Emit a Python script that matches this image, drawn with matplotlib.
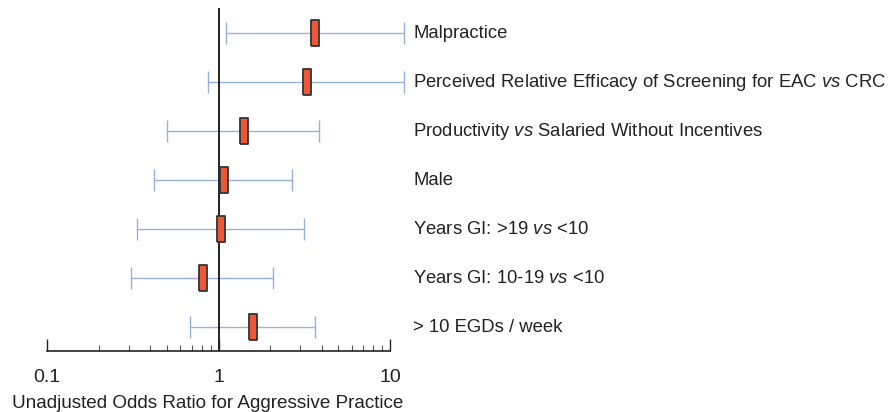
import matplotlib.pyplot as plt
import numpy as np

plt.rcParams['font.family'] = ['Liberation Sans', 'DejaVu Sans']
plt.rcParams['mathtext.fontset'] = 'custom'
plt.rcParams['mathtext.rm'] = 'Liberation Sans'
plt.rcParams['mathtext.it'] = 'Liberation Sans:italic'

# factors, top to bottom
labels = [
    "Malpractice",
    "Perceived Relative Efficacy of Screening for EAC $\\it{vs}$ CRC",
    "Productivity $\\it{vs}$ Salaried Without Incentives",
    "Male",
    "Years GI: >19 $\\it{vs}$ <10",
    "Years GI: 10-19 $\\it{vs}$ <10",
    "> 10 EGDs / week",
]
odds = [3.63, 3.26, 1.40, 1.07, 1.03, 0.81, 1.58]
ci_low = [1.10, 0.87, 0.50, 0.42, 0.337, 0.307, 0.68]
ci_high = [12.0, 12.1, 3.88, 2.67, 3.17, 2.09, 3.63]

odds = np.array(odds)
ci_low = np.array(ci_low)
ci_high = np.array(ci_high)
y = np.arange(len(labels))[::-1]

fig = plt.figure(figsize=(8.91, 4.12), dpi=100)
ax = fig.add_axes([47 / 891, 61 / 412, 343 / 891, 343 / 412])

ax.set_xscale('log')
ax.set_xlim(0.1, 10)
ax.set_ylim(-0.5, 6.5)

ax.axvline(1, color='#222222', lw=1.4, zorder=2)

# confidence intervals
ax.errorbar(odds, y, xerr=[odds - ci_low, ci_high - odds], fmt='none',
            ecolor='#97B0DE', elinewidth=1.0, capsize=8, capthick=1.0,
            clip_on=False, zorder=1)

# tall rectangular point estimates
box = [(-1, -2.9), (1, -2.9), (1, 2.9), (-1, 2.9), (-1, -2.9)]
ax.plot(odds, y, linestyle='none', marker=box, markersize=18.5,
        markerfacecolor='#EE5636', markeredgecolor='#333333',
        markeredgewidth=1.3, zorder=3, clip_on=False)

for yi, lab in zip(y, labels):
    ax.text(13.7, yi - 0.03, lab, fontsize=13.3, color='#222222',
            va='center', ha='left')

for s in ['left', 'top', 'right']:
    ax.spines[s].set_visible(False)
ax.spines['bottom'].set_linewidth(1.2)
ax.spines['bottom'].set_color('#222222')
ax.set_yticks([])

ax.set_xticks([0.1, 1, 10])
ax.set_xticklabels(['0.1', '1', '10'])
ax.tick_params(axis='x', which='major', direction='in', length=9,
               width=1.0, labelsize=14, pad=13, colors='#222222')
ax.tick_params(axis='x', which='minor', direction='in', length=4.5,
               width=0.8, colors='#555555')

ax.set_xlabel('Unadjusted Odds Ratio for Aggressive Practice',
              fontsize=13.6, color='#222222')
ax.xaxis.set_label_coords(0.469, -0.128)

fig.savefig('out.png', dpi=100)
